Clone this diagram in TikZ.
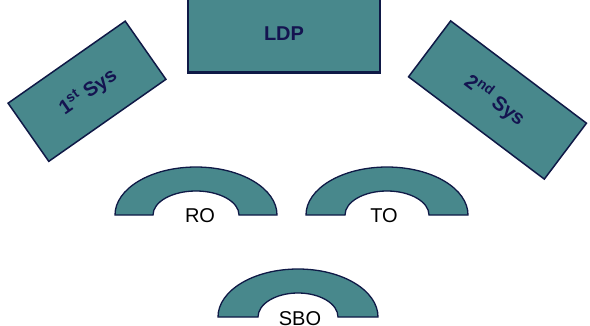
\documentclass[tikz,border=0pt]{standalone}
\usepackage{fontspec}
\setmainfont{Liberation Sans}
\usetikzlibrary{calc}
\definecolor{tealfill}{RGB}{72,136,140}
\definecolor{edge}{RGB}{15,25,70}
\definecolor{topedge}{RGB}{30,50,160}
\definecolor{labelc}{RGB}{20,20,80}
\tikzset{
  boxshape/.style={draw=edge, line width=1.5pt, fill=tealfill, minimum width=#1, inner sep=0pt},
  boxlabel/.style={text=labelc, font=\fontsize{20}{20}\selectfont\bfseries},
  bandshape/.style={draw=edge, line width=1.3pt, fill=tealfill},
  bandlabel/.style={text=black, font=\fontsize{20}{20}\selectfont, inner sep=0pt}
}
\begin{document}
\begin{tikzpicture}[x=1pt,y=1pt]
\useasboundingbox (0,0) rectangle (590,325);
% LDP
\node[draw=edge, line width=1.5pt, fill=tealfill, minimum width=192pt, minimum height=76pt, inner sep=0pt] (ldp) at (284,291) {};
\draw[topedge, line width=3pt] (ldp.north west) -- (ldp.north east);
\draw[edge, line width=2.5pt] (ldp.south west) -- (ldp.south east);
\node[boxlabel] (ldpt) at (284,291) {LDP};
% 1st Sys
\node[boxshape=143pt, minimum height=71pt, rotate=35] (sys1) at (87,233.75) {};
\node[boxlabel, rotate=35] (sys1t) at (88,233) {1\textsuperscript{st} Sys};
% 2nd Sys
\node[boxshape=170pt, minimum height=70pt, rotate=-37] (sys2) at (497.5,225) {};
\node[boxlabel, rotate=-37] (sys2t) at (495,225) {2\textsuperscript{nd} Sys};
% RO band
\coordinate (ro) at (196,110);
\draw[bandshape] ($(ro)+(-81,0)$) arc[start angle=180,end angle=0,x radius=81pt,y radius=48pt]
  -- ($(ro)+(43,0)$) arc[start angle=0,end angle=180,x radius=43pt,y radius=24pt] -- cycle;
\node[bandlabel] (rot) at (200,109) {RO};
% TO band
\coordinate (to) at (387,110);
\draw[bandshape] ($(to)+(-81,0)$) arc[start angle=180,end angle=0,x radius=81pt,y radius=48pt]
  -- ($(to)+(42,0)$) arc[start angle=0,end angle=180,x radius=42pt,y radius=24pt] -- cycle;
\node[bandlabel] (tot) at (384,109) {TO};
% SBO band
\coordinate (sbo) at (298,8);
\draw[bandshape] ($(sbo)+(-80,0)$) arc[start angle=180,end angle=0,x radius=80pt,y radius=48pt]
  -- ($(sbo)+(40,0)$) arc[start angle=0,end angle=180,x radius=40pt,y radius=24pt] -- cycle;
\node[bandlabel] (sbot) at (300,6.5) {SBO};
\end{tikzpicture}
\end{document}
